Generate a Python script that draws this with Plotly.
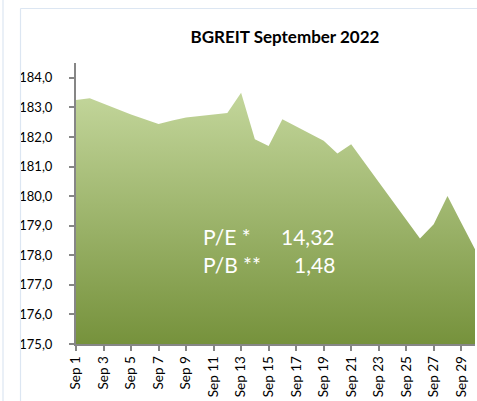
import plotly.graph_objects as go

dates = ["2022-09-01", "2022-09-02", "2022-09-05", "2022-09-07", "2022-09-08",
         "2022-09-09", "2022-09-12", "2022-09-13", "2022-09-14", "2022-09-15",
         "2022-09-16", "2022-09-19", "2022-09-20", "2022-09-21", "2022-09-23",
         "2022-09-26", "2022-09-27", "2022-09-28", "2022-09-29", "2022-09-30"]
values = [183.25, 183.31, 182.76, 182.44, 182.56,
          182.66, 182.81, 183.49, 181.92, 181.69,
          182.60, 181.87, 181.44, 181.75, 180.48,
          178.57, 179.05, 180.00, 179.10, 178.20]

title_text = "BGREIT September 2022"
ratio_labels = ["P/E *", "P/B **"]
ratio_values = ["14,32", "1,48"]

FONT = "Lato"

fig = go.Figure()
fig.add_trace(go.Scatter(
    x=dates, y=values, mode="lines", fill="tozeroy",
    line=dict(width=0, color="#9bb56a"),
    fillgradient=dict(type="vertical", start=175, stop=183.5,
                      colorscale=[[0, "#76923c"], [1, "#c3d69b"]]),
    hoverinfo="skip", showlegend=False,
))

def px_x(p):
    return (p - 76) / 399

def px_y(p):
    return (344 - p) / (344 - 63)

# ratio annotations
for i, (lab, val) in enumerate(zip(ratio_labels, ratio_values)):
    yp = px_y(236 + i * 28)
    fig.add_annotation(x=px_x(203), y=yp, xref="paper", yref="paper",
                       text=lab, showarrow=False, xanchor="left", yanchor="middle",
                       xshift=-2, font=dict(family=FONT, size=21, color="white"))
    fig.add_annotation(x=px_x(335), y=yp, xref="paper", yref="paper",
                       text=val, showarrow=False, xanchor="right", yanchor="middle",
                       xshift=2, font=dict(family=FONT, size=21, color="white"))

# frame lines
border = "#dce6f2"
fig.add_shape(type="line", xref="paper", yref="paper",
              x0=px_x(20.5), x1=px_x(20.5), y0=px_y(8.5), y1=px_y(405),
              line=dict(color=border, width=1.2))
fig.add_shape(type="line", xref="paper", yref="paper",
              x0=px_x(20.5), x1=px_x(480), y0=px_y(8.5), y1=px_y(8.5),
              line=dict(color=border, width=1.2))
fig.add_shape(type="line", xref="paper", yref="paper",
              x0=px_x(3), x1=px_x(3), y0=px_y(-5), y1=px_y(405),
              line=dict(color=border, width=1.2))

fig.update_layout(
    width=477, height=401,
    margin=dict(l=76, r=2, t=63, b=57),
    paper_bgcolor="white", plot_bgcolor="white",
    separators=", ",
    font=dict(family=FONT, size=13, color="#000000"),
    title=dict(text="<b>" + title_text + "</b>", x=285 / 477, xref="container",
               xanchor="center", y=1 - 37 / 401, yref="container", yanchor="middle",
               font=dict(family=FONT, size=17, color="#000000")),
    xaxis=dict(type="date", range=["2022-09-01", "2022-09-30"],
               tick0="2022-09-01", dtick=2 * 86400000, tickformat="%b %-d",
               tickangle=-90, ticks="outside", ticklen=5, tickcolor="#868686",
               tickwidth=1.5, showline=True, linecolor="#868686", linewidth=1.5,
               showgrid=False, zeroline=False, automargin=False,
               tickfont=dict(size=13.5)),
    yaxis=dict(range=[175, 184.5], tick0=175, dtick=1, tickformat=".1f",
               ticks="outside", ticklen=5, tickcolor="#868686", tickwidth=1.5,
               showline=True, linecolor="#868686", linewidth=2,
               showgrid=False, zeroline=False, ticklabelstandoff=14,
               automargin=False, tickfont=dict(size=13)),
)

fig.write_html("out.html", config={"displayModeBar": False},
               post_script="document.body.style.margin='0';document.body.style.overflow='hidden';")
